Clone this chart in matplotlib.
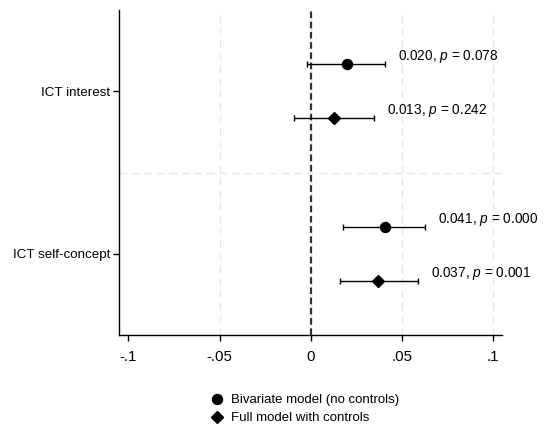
import matplotlib.pyplot as plt
import numpy as np

plt.rcParams['font.family'] = ['Liberation Sans', 'DejaVu Sans']
plt.rcParams['mathtext.fontset'] = 'custom'
plt.rcParams['mathtext.rm'] = 'Liberation Sans'
plt.rcParams['mathtext.it'] = 'Liberation Sans:italic'

variables = ["ICT interest", "ICT self-concept"]
models = ["Bivariate model (no controls)", "Full model with controls"]

coef_bivar = [0.020, 0.041]
lo_bivar = [-0.002, 0.018]
hi_bivar = [0.041, 0.063]
p_bivar = [0.078, 0.000]

coef_full = [0.013, 0.037]
lo_full = [-0.009, 0.016]
hi_full = [0.035, 0.059]
p_full = [0.242, 0.001]

fig = plt.figure(figsize=(5.44, 4.26), dpi=100)
ax = fig.add_axes([0.2193, 0.2136, 0.7035, 0.7629])

ypos = np.array([2.0, 1.0])  # interest on top
offset = 1 / 6

# reference lines
ax.axvline(0, color='#333333', lw=1.6, dashes=(3, 1.6), zorder=1)
ax.axhline(1.5, color='#e6e6e6', lw=0.9, dashes=(6, 4), zorder=0)

series = [
    (coef_bivar, lo_bivar, hi_bivar, p_bivar, 'o', 7.2, offset),
    (coef_full, lo_full, hi_full, p_full, 'D', 6.6, -offset),
]
for (coef, lo, hi, pv, mk, ms, dy), name in zip(series, models):
    c = np.array(coef)
    y = ypos + dy
    err = [c - np.array(lo), np.array(hi) - c]
    ax.errorbar(c, y, xerr=err, fmt=mk, color='black', ms=ms, lw=1.0,
                capsize=2.5, capthick=1.0, label=name, zorder=3)
    for ci, hi_i, yi, p in zip(c, hi, y, pv):
        ax.annotate(f"{ci:.3f}, $p$ = {p:.3f}", xy=(hi_i, yi),
                    xytext=(9, 5.5), textcoords='offset points',
                    ha='left', va='center', fontsize=9.8)

ax.set_xlim(-0.105, 0.105)
ax.set_ylim(0.5, 2.5)
ax.set_xticks([-0.1, -0.05, 0, 0.05, 0.1])
ax.set_xticklabels(['-.1', '-.05', '0', '.05', '.1'], fontsize=10.8)
ax.set_yticks(ypos)
ax.set_yticklabels(variables, fontsize=9.6)

ax.xaxis.grid(True, color='#e6e6e6', lw=0.9, dashes=(6, 4))
ax.xaxis.get_gridlines()[0].set_visible(False)
ax.set_axisbelow(True)

for s in ['top', 'right']:
    ax.spines[s].set_visible(False)
for s in ['left', 'bottom']:
    ax.spines[s].set_linewidth(1.0)
ax.tick_params(axis='x', length=4.5, width=1.0, pad=6.5)
ax.tick_params(axis='y', length=4.5, width=1.0, pad=2)

handles, labels = ax.get_legend_handles_labels()
handles = [h[0] for h in handles]
ax.legend(handles, labels, loc='upper center', bbox_to_anchor=(0.484, -0.165),
          frameon=False, fontsize=9.5, handlelength=1.0, handletextpad=0.6,
          labelspacing=0.45, borderaxespad=0)

fig.savefig('out.png', dpi=100)
